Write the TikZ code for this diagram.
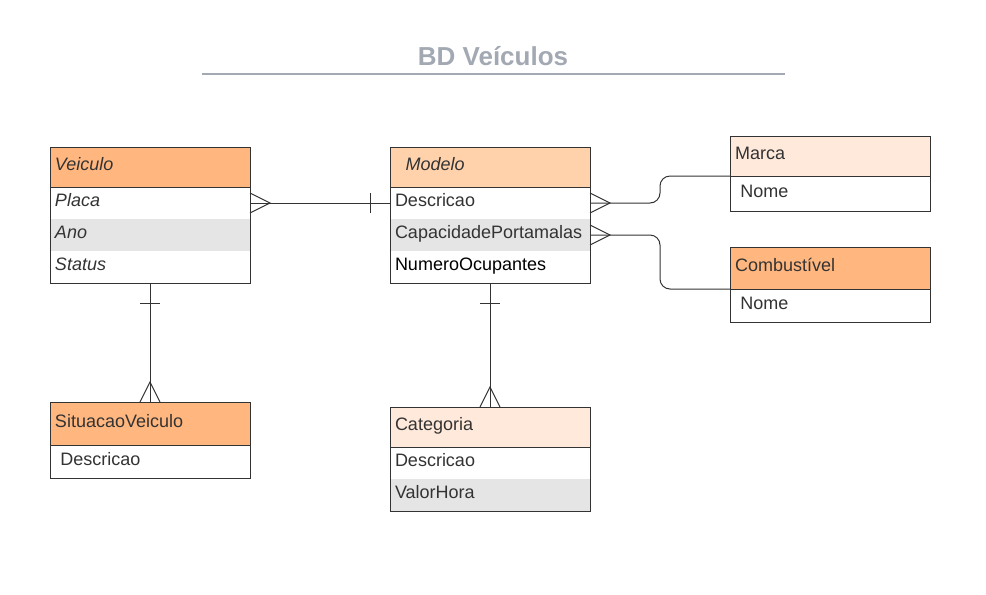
\documentclass[tikz,border=0pt]{standalone}
\usepackage{fontspec}
\setmainfont{Liberation Sans}
\usetikzlibrary{positioning,calc}
\definecolor{hdrdark}{HTML}{FFB77F}
\definecolor{hdrmid}{HTML}{FFD2AC}
\definecolor{hdrlight}{HTML}{FFE9DB}
\definecolor{rowgrey}{HTML}{E5E5E5}
\definecolor{framegrey}{HTML}{333333}
\definecolor{titlegrey}{HTML}{A3A9B3}
\tikzset{
  box/.style={anchor=north west, outer sep=0pt, inner xsep=3.75pt, inner ysep=0pt, text width=142.5pt,
              text height=9.5pt, text depth=4pt,
              align=left, minimum height=24pt, text=framegrey, font=\fontsize{13.5}{15}\selectfont},
  hdr/.style={box, minimum height=30pt},
  row/.style={box, fill=white},
  greyrow/.style={box, fill=rowgrey},
  frame/.style={draw=framegrey, line width=0.75pt},
  link/.style={draw=framegrey, line width=0.75pt},
  indent/.style={execute at begin node=\hspace*{#1}},
  indent/.default=4pt
}
\begin{document}
\begin{tikzpicture}[x=0.75pt,y=-0.75pt]
  \useasboundingbox (0,0) rectangle (986,594);
  % title
  \node[text=titlegrey, font=\bfseries\fontsize{19.5}{22}\selectfont] (title) at (493,56) {BD Veículos};
  \draw[titlegrey, line width=1.5pt] (202,74) -- (785,74); % title rule
  % Veiculo
  \node[hdr, fill=hdrdark] (veiculo) at (50,147) {\itshape Veiculo};
  \node[row] (vplaca) at (veiculo.south west) {\itshape Placa};
  \node[greyrow] (vano) at (vplaca.south west) {\itshape Ano};
  \node[row] (vstatus) at (vano.south west) {\itshape Status};
  \draw[frame] (veiculo.north west) rectangle (vstatus.south east);
  \draw[frame] (veiculo.south west) -- (veiculo.south east);
  % Modelo
  \node[hdr, fill=hdrmid, indent=8pt] (modelo) at (390,147) {\itshape Modelo};
  \node[row] (mdesc) at (modelo.south west) {Descricao};
  \node[greyrow] (mcap) at (mdesc.south west) {CapacidadePortamalas};
  \node[row, text=black] (mnum) at (mcap.south west) {NumeroOcupantes};
  \draw[frame] (modelo.north west) rectangle (mnum.south east);
  \draw[frame] (modelo.south west) -- (modelo.south east);
  % Marca
  \node[hdr, fill=hdrlight] (marca) at (730,136) {Marca};
  \node[row, indent, minimum height=26.25pt] (mnome) at (marca.south west) {Nome};
  \draw[frame] (marca.north west) rectangle (mnome.south east);
  \draw[frame] (marca.south west) -- (marca.south east);
  % Combustivel
  \node[hdr, fill=hdrdark, minimum height=31.5pt] (combust) at (730,247) {Combustível};
  \node[row, indent, minimum height=24.75pt] (cnome) at (combust.south west) {Nome};
  \draw[frame] (combust.north west) rectangle (cnome.south east);
  \draw[frame] (combust.south west) -- (combust.south east);
  % SituacaoVeiculo
  \node[hdr, fill=hdrdark, minimum height=32.25pt] (situacao) at (50,402) {SituacaoVeiculo};
  \node[row, indent, minimum height=24.75pt] (sdesc) at (situacao.south west) {Descricao};
  \draw[frame] (situacao.north west) rectangle (sdesc.south east);
  \draw[frame] (situacao.south west) -- (situacao.south east);
  % Categoria
  \node[hdr, fill=hdrlight] (categoria) at (390,407) {Categoria};
  \node[row] (cdesc) at (categoria.south west) {Descricao};
  \node[greyrow] (cvalor) at (cdesc.south west) {ValorHora};
  \draw[frame] (categoria.north west) rectangle (cvalor.south east);
  \draw[frame] (categoria.south west) -- (categoria.south east);
  % Veiculo -- Modelo
  \draw[link] (vplaca.east) -- (mdesc.west);
  \draw[link] ([yshift=7.5pt]vplaca.east) -- ([xshift=15pt]vplaca.east) -- ([yshift=-7.5pt]vplaca.east); % many
  \draw[link] ([xshift=-15pt,yshift=7.5pt]mdesc.west) -- ([xshift=-15pt,yshift=-7.5pt]mdesc.west); % one
  % Veiculo -- SituacaoVeiculo
  \draw[link] (vstatus.south) -- (situacao.north);
  \draw[link] ([xshift=-7.5pt,yshift=-15pt]vstatus.south) -- ([xshift=7.5pt,yshift=-15pt]vstatus.south); % one
  \draw[link] ([xshift=-7.5pt]situacao.north) -- ([yshift=15pt]situacao.north) -- ([xshift=7.5pt]situacao.north); % many
  % Modelo -- Categoria
  \draw[link] (mnum.south) -- (categoria.north);
  \draw[link] ([xshift=-7.5pt,yshift=-15pt]mnum.south) -- ([xshift=7.5pt,yshift=-15pt]mnum.south); % one
  \draw[link] ([xshift=-7.5pt]categoria.north) -- ([yshift=15pt]categoria.north) -- ([xshift=7.5pt]categoria.north); % many
  % Modelo -- Marca
  \draw[link, rounded corners=7.5pt] (mdesc.east) -- ++(70,0) |- (marca.south west);
  \draw[link] ([yshift=7.5pt]mdesc.east) -- ([xshift=15pt]mdesc.east) -- ([yshift=-7.5pt]mdesc.east); % many
  % Modelo -- Combustivel
  \draw[link, rounded corners=7.5pt] (mcap.east) -- ++(70,0) |- (combust.south west);
  \draw[link] ([yshift=7.5pt]mcap.east) -- ([xshift=15pt]mcap.east) -- ([yshift=-7.5pt]mcap.east); % many
\end{tikzpicture}
\end{document}
